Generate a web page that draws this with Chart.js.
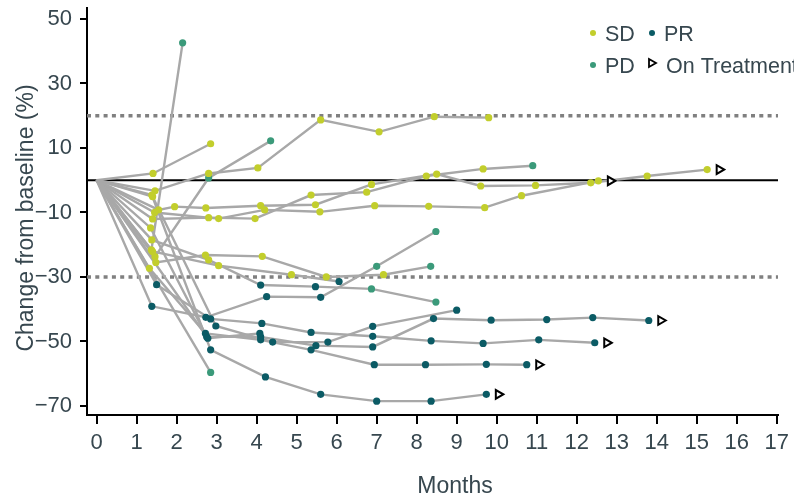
<!DOCTYPE html>
<html>
<head>
<meta charset="utf-8">
<script src="https://cdn.jsdelivr.net/npm/chart.js@4.4.1/dist/chart.umd.min.js"></script>
<style>
  html, body { margin: 0; padding: 0; background: #fff; overflow: hidden; }
</style>
</head>
<body>
<canvas id="chart" width="794" height="497"></canvas>
<script>
// months since baseline, one list per patient
const months = [
  [0, 1.41, 2.85],
  [0, 1.37, 2.15],
  [0, 1.46, 2.8, 4.35],
  [0, 1.46, 2.8, 4.03, 5.6, 7.06, 8.44, 9.8],
  [0, 1.55, 1.95, 2.73, 4.1, 5.47, 6.87, 8.5, 9.6, 10.97, 12.35, 13.76, 15.26],
  [0, 1.45, 3.05, 4.2, 5.58, 6.95, 8.3, 9.7, 10.62, 12.54],
  [0, 1.4, 2.8, 3.96, 5.36, 6.75, 8.24, 9.66, 10.9],
  [0, 1.4, 2.98, 4.4, 5.78, 6.9, 9.0],
  [0, 1.35, 2.75, 4.1, 5.48, 6.9, 8.42, 9.86, 11.25, 12.4, 13.8],
  [0, 1.5, 2.85, 4.13, 5.36, 6.9, 8.36, 9.66, 11.05, 12.45],
  [0, 1.32, 2.72, 4.1, 5.36, 6.94, 8.22, 9.74, 10.75],
  [0, 1.38, 2.85, 4.22, 5.6, 7.0, 8.36, 9.74],
  [0, 2.85],
  [0, 1.38, 2.73, 4.25, 5.6, 7.0, 8.48],
  [0, 1.38, 2.8, 4.1, 5.47, 6.87, 8.48],
  [0, 1.48, 2.72, 4.14, 5.74, 7.17, 8.35],
  [0, 1.4, 3.05, 4.87, 6.06],
  [0, 2.78, 4.08]
]

// change from baseline (%), same shape as months
const change = [
  [0, 2.1, 11.3],
  [0, -21.6, 42.6],
  [0, -23.7, 0.7, 12.2],
  [0, -3.3, 2.1, 3.8, 18.7, 15, 19.7, 19.4],
  [0, -9.2, -8.2, -8.6, -7.9, -7.6, -1.3, 1.9, -1.8, -1.6, -0.8, 1.3, 3.3],
  [0, -10, -11.9, -9.2, -9.8, -7.9, -8.1, -8.5, -4.8, -0.2],
  [0, -12, -11.6, -11.9, -4.6, -3.7, 1.3, 3.5, 4.5],
  [0, -5.1, -45.2, -50.2, -50.2, -45.3, -40.3],
  [0, -14.8, -48.5, -48.6, -51.3, -51.7, -42.9, -43.4, -43.2, -42.6, -43.5],
  [0, -32.4, -43, -44.4, -47.2, -48.4, -49.8, -50.6, -49.5, -50.4],
  [0, -27.3, -47.5, -49.5, -52.6, -57.2, -57.2, -57.1, -57.2],
  [0, -4.6, -52.6, -61, -66.4, -68.5, -68.5, -66.4],
  [0, -59.6],
  [0, -39.1, -42.5, -36.1, -36.3, -26.7, -15.9],
  [0, -18.5, -24.7, -32.5, -33, -33.7, -37.8],
  [0, -25.5, -23.2, -23.6, -30, -29.3, -26.7],
  [0, -22.1, -26.5, -29.3, -31.4],
  [0, -49, -47.5]
]

// response at each assessment (baseline has none)
const response = [
  [null, 'SD', 'SD'],
  [null, 'SD', 'PD'],
  [null, 'SD', 'PD', 'PD'],
  [null, 'SD', 'SD', 'SD', 'SD', 'SD', 'SD', 'SD'],
  [null, 'SD', 'SD', 'SD', 'SD', 'SD', 'SD', 'SD', 'SD', 'SD', 'SD', 'SD', 'SD'],
  [null, 'SD', 'SD', 'SD', 'SD', 'SD', 'SD', 'SD', 'SD', 'SD'],
  [null, 'SD', 'SD', 'SD', 'SD', 'SD', 'SD', 'SD', 'PD'],
  [null, 'SD', 'PR', 'PR', 'PR', 'PR', 'PR'],
  [null, 'SD', 'PR', 'PR', 'PR', 'PR', 'PR', 'PR', 'PR', 'PR', 'PR'],
  [null, 'PR', 'PR', 'PR', 'PR', 'PR', 'PR', 'PR', 'PR', 'PR'],
  [null, 'SD', 'PR', 'PR', 'PR', 'PR', 'PR', 'PR', 'PR'],
  [null, 'SD', 'PR', 'PR', 'PR', 'PR', 'PR', 'PR'],
  [null, 'PD'],
  [null, 'PR', 'PR', 'PR', 'PR', 'PD', 'PD'],
  [null, 'SD', 'SD', 'PR', 'PR', 'PD', 'PD'],
  [null, 'SD', 'SD', 'SD', 'SD', 'SD', 'PD'],
  [null, 'SD', 'SD', 'SD', 'PR'],
  [null, 'PR', 'PR']
]

// patients still on treatment (index into the lists above)
const onTreatment = [4, 5, 8, 9, 10, 11]

const refLines = [20, 0, -30]
const xTicks = [0, 1, 2, 3, 4, 5, 6, 7, 8, 9, 10, 11, 12, 13, 14, 15, 16, 17]
const yTicks = [-70, -50, -30, -10, 10, 30, 50]
const respTypes = ['SD', 'PD', 'PR']

const colors = { SD: '#c2ce2c', PD: '#3b9a7a', PR: '#0b5b65' }
const textColor = '#37474f'
const narrow = '"Liberation Sans Narrow", "Arial Narrow", "Liberation Sans", sans-serif'
const xMin = -0.24, xMax = 17.03

const datasets = []

// reference lines
refLines.forEach(v => {
  datasets.push({
    data: [{ x: xMin, y: v }, { x: xMax, y: v }],
    borderColor: v === 0 ? '#000' : '#808080',
    borderWidth: v === 0 ? 2 : 3.5,
    borderDash: v === 0 ? [] : [4, 4.3],
    pointRadius: 0,
    order: 30
  })
})

// patient lines
months.forEach((m, i) => {
  datasets.push({
    data: m.map((x, j) => ({ x, y: change[i][j] })),
    borderColor: '#a8a8a8',
    borderWidth: 2.4,
    pointRadius: 0,
    order: 20
  })
})

// assessment points, grouped by response
respTypes.forEach(r => {
  const pts = []
  months.forEach((m, i) => {
    m.forEach((x, j) => {
      if (response[i][j] === r) pts.push({ x, y: change[i][j] })
    })
  })
  datasets.push({
    data: pts,
    showLine: false,
    pointRadius: 3.6,
    pointBorderWidth: 0,
    pointBackgroundColor: colors[r],
    order: 10
  })
})

// on-treatment arrows
datasets.push({
  data: onTreatment.map(i => {
    const m = months[i], c = change[i]
    return { x: m[m.length - 1] + 0.3, y: c[c.length - 1] }
  }),
  showLine: false,
  pointStyle: 'triangle',
  rotation: 90,
  pointRadius: 5,
  pointBorderWidth: 2,
  pointBorderColor: '#000',
  pointBackgroundColor: '#fff',
  order: 1
})

// legend and axis titles
const labelPlugin = {
  id: 'spiderLabels',
  afterDraw(chart) {
    const ctx = chart.ctx
    ctx.save()
    ctx.textBaseline = 'middle'
    ctx.fillStyle = textColor

    // axis titles
    ctx.font = '23px ' + narrow
    ctx.textAlign = 'center'
    ctx.fillText('Months', 455, 487)
    ctx.save()
    ctx.translate(27, 218)
    ctx.rotate(-Math.PI / 2)
    ctx.fillText('Change from baseline (%)', 0, 0)
    ctx.restore()

    // legend
    ctx.font = '21.5px "Liberation Sans", Arial, sans-serif'
    ctx.textAlign = 'left'
    const items = [
      { x: 593, y: 34, label: 'SD', color: colors.SD },
      { x: 652, y: 34, label: 'PR', color: colors.PR },
      { x: 593, y: 66, label: 'PD', color: colors.PD }
    ]
    items.forEach(it => {
      ctx.beginPath()
      ctx.arc(it.x, it.y - 1, 3, 0, Math.PI * 2)
      ctx.fillStyle = it.color
      ctx.fill()
      ctx.fillStyle = textColor
      ctx.fillText(it.label, it.x + 12, it.y + 1)
    })
    ctx.beginPath()
    ctx.moveTo(649, 59)
    ctx.lineTo(656, 63)
    ctx.lineTo(649, 67)
    ctx.closePath()
    ctx.fillStyle = '#fff'
    ctx.fill()
    ctx.lineWidth = 1.8
    ctx.strokeStyle = '#000'
    ctx.stroke()
    ctx.fillStyle = textColor
    ctx.fillText('On Treatment', 666, 67)
    ctx.restore()
  }
}

const minusSign = v => String(v).replace('-', '\u2212')

new Chart(document.getElementById('chart'), {
  type: 'line',
  data: { datasets },
  options: {
    responsive: false,
    animation: false,
    layout: { padding: { top: 8, right: 16, left: 0, bottom: 0 } },
    plugins: {
      legend: { display: false },
      tooltip: { enabled: false }
    },
    scales: {
      x: {
        type: 'linear',
        min: xMin,
        max: xMax,
        afterBuildTicks: s => { s.ticks = xTicks.map(v => ({ value: v })) },
        afterFit: s => { s.height = 82; s.paddingLeft = 0; s.paddingRight = 0 },
        ticks: {
          autoSkip: false,
          maxRotation: 0,
          padding: 6,
          color: textColor,
          callback: minusSign,
          font: { family: narrow, size: 22 }
        },
        grid: { drawOnChartArea: false, drawTicks: true, tickLength: 9, color: '#000', lineWidth: 2 },
        border: { color: '#000', width: 2 }
      },
      y: {
        type: 'linear',
        min: -72.8,
        max: 53.4,
        afterBuildTicks: s => { s.ticks = yTicks.map(v => ({ value: v })) },
        afterFit: s => { s.width = 87; s.paddingTop = 0; s.paddingBottom = 0 },
        ticks: {
          padding: 8,
          color: textColor,
          callback: minusSign,
          font: { family: narrow, size: 22 }
        },
        grid: { drawOnChartArea: false, drawTicks: true, tickLength: 7, color: '#000', lineWidth: 2 },
        border: { color: '#000', width: 2 }
      }
    }
  },
  plugins: [labelPlugin]
})
</script>
</body>
</html>
